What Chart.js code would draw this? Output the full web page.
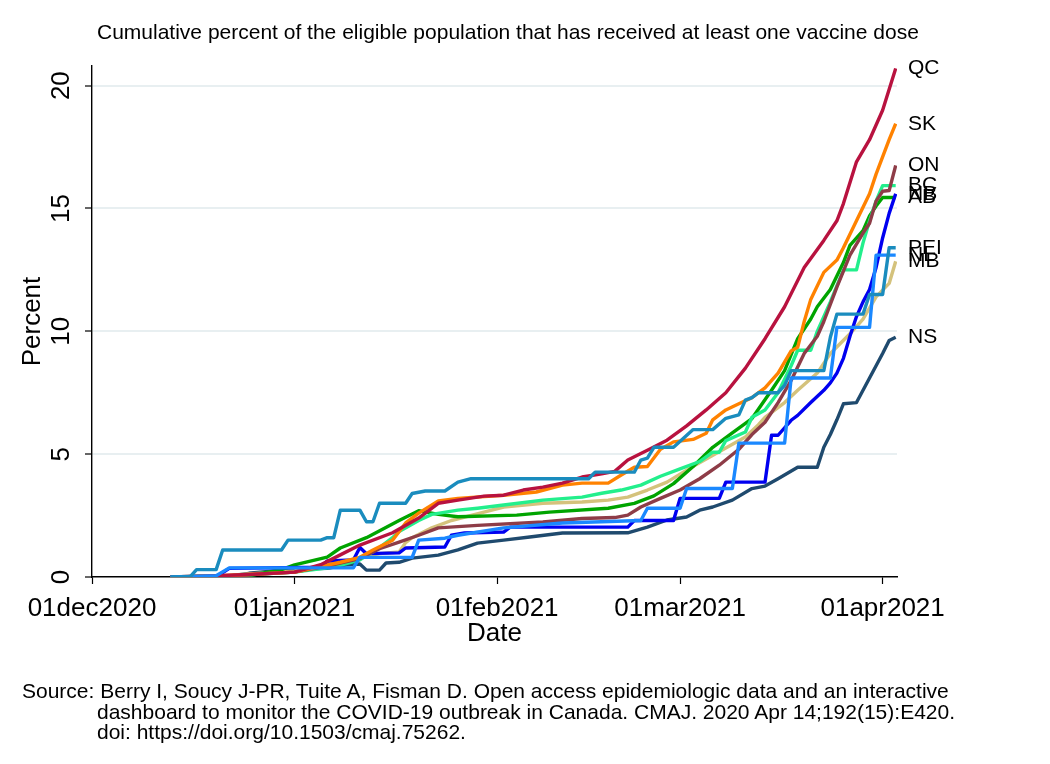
<!DOCTYPE html>
<html>
<head>
<meta charset="utf-8">
<title>Cumulative vaccine coverage by province</title>
<script src="https://cdn.jsdelivr.net/npm/chart.js@4.4.1/dist/chart.umd.min.js"></script>
<style>
  html, body { margin: 0; padding: 0; background: #fff; }
  #wrap { position: relative; width: 1050px; height: 764px; font-family: 'Liberation Sans', Arial, sans-serif; color: #000; }
  #chart { position: absolute; left: 0; top: 0; }
  #title { position: absolute; left: 97px; top: 19px; font-size: 21px; line-height: 26px; white-space: nowrap; }
  #source { position: absolute; left: 22px; top: 681px; font-size: 21px; line-height: 20.5px; padding-left: 75px; text-indent: -75px; white-space: nowrap; }
</style>
</head>
<body>
<div id="wrap">
  <canvas id="chart" width="1050" height="764"></canvas>
  <div id="title">Cumulative percent of the eligible population that has received at least one vaccine dose</div>
  <div id="source">Source: Berry I, Soucy J-PR, Tuite A, Fisman D. Open access epidemiologic data and an interactive<br>dashboard to monitor the COVID-19 outbreak in Canada. CMAJ. 2020 Apr 14;192(15):E420.<br>doi: https://doi.org/10.1503/cmaj.75262.</div>
</div>
<script>
// x values are days counted from 01dec2020
const tickDays = [0, 31, 62, 90, 121];
const tickLabels = ['01dec2020', '01jan2021', '01feb2021', '01mar2021', '01apr2021'];
const yTicks = [0, 5, 10, 15, 20];

const provinces = ['QC', 'SK', 'ON', 'BC', 'NB', 'AB', 'PEI', 'NL', 'MB', 'NS'];

// [day, percent]
const qc = [[12,0],[17,0.03],[24,0.1],[31,0.2],[35,0.5],[38,0.9],[41,1.3],[46,1.8],[50,2.4],[53,3.0],[56,3.13],[60,3.29],[63,3.33],[66,3.54],[69,3.66],[72,3.82],[75,4.07],[78,4.2],[80,4.3],[82,4.76],[85,5.16],[88,5.57],[91,6.15],[94,6.8],[97,7.5],[100,8.5],[103,9.7],[106,11.0],[109,12.6],[112,13.7],[114,14.5],[115,15.2],[117,16.9],[119,17.8],[121,19.0],[123,20.7]];
const sk = [[12,0],[20,0.05],[31,0.2],[38,0.6],[41,0.8],[43,1.1],[46,1.5],[48,2.2],[50,2.6],[53,3.1],[56,3.2],[63,3.33],[68,3.46],[72,3.74],[75,3.82],[79,3.82],[81,4.15],[83,4.47],[85,4.5],[87,5.2],[89,5.5],[92,5.6],[94,5.85],[95,6.4],[97,6.8],[99,7.05],[101,7.3],[103,7.7],[105,8.3],[107,9.2],[108,9.35],[109,10.4],[110,11.3],[112,12.4],[114,12.9],[115,13.4],[117,14.5],[119,15.6],[120,16.4],[122,17.8],[123,18.45]];
const on = [[12,0],[20,0.03],[31,0.2],[37,0.5],[41,0.75],[44,1.15],[47,1.42],[50,1.7],[53,2.0],[59,2.1],[69,2.24],[75,2.38],[80,2.42],[82,2.52],[84,2.85],[87,3.2],[90,3.54],[93,4.0],[96,4.55],[99,5.2],[101,5.8],[103,6.3],[105,7.1],[107,8.0],[109,9.1],[111,9.8],[112,10.4],[114,11.8],[116,13.1],[118,14.0],[119,14.4],[120,15.3],[121,15.7],[122,15.73],[123,16.75]];
const bc = [[12,0],[20,0.03],[31,0.2],[37,0.4],[41,0.7],[44,1.2],[46,1.6],[47,1.85],[50,2.3],[52,2.55],[56,2.72],[59,2.8],[63,2.93],[69,3.13],[75,3.25],[78,3.41],[81,3.54],[84,3.74],[87,4.1],[90,4.4],[93,4.7],[95,5.08],[96,5.08],[97,5.55],[100,5.9],[101,6.5],[103,6.8],[105,7.5],[107,8.6],[108,9.23],[110,9.23],[111,10.0],[113,11.2],[115,12.5],[117,12.5],[118,13.6],[119,14.5],[120,15.3],[121,15.93],[123,15.93]];
const nb = [[12,0],[19,0],[21,0.35],[35,0.4],[36,0.65],[40,0.69],[41,1.2],[42,0.95],[47,0.98],[48,1.18],[54,1.22],[55,1.7],[57,1.79],[63,1.83],[64,2.03],[82,2.03],[83,2.3],[89,2.3],[90,3.2],[96,3.2],[97,3.86],[103,3.86],[104,5.77],[105,5.77],[107,6.38],[108,6.58],[110,7.1],[112,7.6],[113,7.9],[114,8.3],[115,8.9],[116,9.8],[117,10.6],[118,11.2],[119,11.7],[120,12.6],[121,13.8],[122,14.8],[123,15.6]];
const ab = [[12,0],[24,0.05],[29,0.3],[31,0.49],[36,0.81],[38,1.18],[42,1.6],[47,2.3],[50,2.7],[53,2.55],[56,2.45],[65,2.52],[70,2.64],[79,2.8],[83,3.0],[86,3.3],[89,3.8],[92,4.5],[95,5.28],[98,5.87],[101,6.45],[104,7.6],[106,8.4],[108,9.7],[110,10.5],[111,11.0],[113,11.7],[115,12.8],[116,13.5],[118,14.1],[119,14.7],[120,15.1],[121,15.45],[123,15.45]];
const pei = [[12,0],[15,0],[16,0.3],[19,0.3],[20,1.1],[29,1.1],[30,1.5],[35,1.5],[36,1.6],[37,1.6],[38,2.72],[41,2.72],[42,2.25],[43,2.25],[44,3.0],[48,3.0],[49,3.4],[51,3.5],[54,3.5],[56,3.86],[58,4.0],[76,4.0],[77,4.27],[83,4.27],[84,4.76],[85,4.84],[86,5.28],[89,5.28],[92,6.0],[95,6.0],[97,6.46],[99,6.6],[100,7.2],[101,7.3],[102,7.5],[105,7.5],[106,7.8],[107,8.4],[112,8.4],[113,9.76],[114,10.7],[118,10.7],[119,11.5],[121,11.5],[122,13.4],[123,13.4]];
const nl = [[12,0],[19,0.05],[21,0.37],[40,0.37],[41,0.8],[49,0.8],[50,1.5],[54,1.58],[56,1.7],[63,2.0],[72,2.2],[84,2.3],[85,2.8],[90,2.8],[91,3.6],[98,3.6],[99,5.45],[106,5.45],[107,8.1],[113,8.1],[114,10.16],[119,10.16],[120,13.1],[123,13.1]];
const mb = [[12,0],[20,0.05],[31,0.25],[38,0.6],[44,0.95],[47,1.02],[48,1.4],[49,1.6],[52,2.0],[55,2.3],[60,2.64],[63,2.85],[69,3.0],[75,3.05],[79,3.13],[82,3.25],[85,3.54],[88,3.86],[91,4.35],[94,4.8],[97,5.25],[100,5.7],[102,6.2],[103,6.5],[106,7.1],[108,7.6],[111,8.3],[113,9.1],[116,9.9],[118,10.5],[120,11.4],[122,11.95],[123,12.85]];
const ns = [[12,0],[20,0],[24,0.15],[30,0.3],[36,0.35],[39,0.5],[41,0.53],[42,0.28],[44,0.28],[45,0.57],[47,0.6],[49,0.77],[53,0.89],[56,1.1],[59,1.38],[63,1.5],[67,1.63],[72,1.79],[82,1.8],[85,2.03],[88,2.32],[91,2.44],[93,2.72],[95,2.85],[98,3.13],[101,3.6],[103,3.7],[105,4.0],[108,4.47],[111,4.47],[112,5.28],[113,5.8],[114,6.4],[115,7.05],[117,7.1],[119,8.1],[121,9.1],[122,9.63],[123,9.76]];

const series = [qc, sk, on, bc, nb, ab, pei, nl, mb, ns];
const colors = ['#b8123f', '#ff8200', '#8e3c47', '#22ef8c', '#0000f0', '#00a400', '#1a8cbe', '#1a88ff', '#d4c27c', '#1f4a6e'];
// PEI and NL sit on top of the others
const drawOrder = [2, 3, 4, 5, 6, 7, 0, 1, 8, 9];

const FONT = "'Liberation Sans', Arial, sans-serif";

const sideText = {
  id: 'sideText',
  afterDraw(chart) {
    const { ctx, chartArea, scales } = chart;
    ctx.save();
    ctx.fillStyle = '#000';
    // vertical y tick labels
    ctx.font = '26px ' + FONT;
    ctx.textAlign = 'center';
    ctx.textBaseline = 'middle';
    yTicks.forEach(v => {
      const py = scales.y.getPixelForValue(v);
      ctx.save();
      ctx.translate(scales.y.right - 30, py);
      ctx.rotate(-Math.PI / 2);
      ctx.fillText(String(v), 0, 0);
      ctx.restore();
    });
    // province name at the end of each line
    ctx.font = '21px ' + FONT;
    ctx.textAlign = 'left';
    chart.data.datasets.forEach((ds, i) => {
      const pts = chart.getDatasetMeta(i).data;
      const last = pts[pts.length - 1];
      ctx.fillText(ds.label, chartArea.right + 11, last.y);
    });
    ctx.restore();
  }
};

Chart.defaults.font.family = FONT;
Chart.defaults.color = '#000';

new Chart(document.getElementById('chart'), {
  type: 'line',
  data: {
    datasets: provinces.map((p, i) => ({
      label: p,
      data: series[i].map(([x, y]) => ({ x, y })),
      borderColor: colors[i],
      borderWidth: 3.4,
      pointRadius: 0,
      fill: false,
      tension: 0,
      borderJoinStyle: 'round',
      order: drawOrder[i]
    }))
  },
  options: {
    responsive: false,
    animation: false,
    layout: { padding: { left: 0, top: 66, right: 153, bottom: 114.4 } },
    plugins: {
      legend: { display: false },
      tooltip: { enabled: false }
    },
    scales: {
      x: {
        type: 'linear',
        min: 0,
        max: 123.2,
        afterBuildTicks: s => { s.ticks = tickDays.map(v => ({ value: v })); },
        afterFit: s => { s.height = 72.6; },
        ticks: {
          autoSkip: false,
          maxRotation: 0,
          minRotation: 0,
          padding: 9,
          font: { size: 26 },
          callback: v => tickLabels[tickDays.indexOf(v)]
        },
        grid: { drawOnChartArea: false, tickLength: 7, tickColor: '#000', tickWidth: 1.2 },
        border: { display: true, color: '#000', width: 1.4 },
        title: { display: true, text: 'Date', font: { size: 26 }, padding: 0 }
      },
      y: {
        min: 0,
        max: 20.8,
        afterBuildTicks: s => { s.ticks = yTicks.map(v => ({ value: v })); },
        afterFit: s => { s.width = 92; },
        ticks: { display: false },
        grid: {
          color: c => (c.tick && c.tick.value === 0 ? 'rgba(0,0,0,0)' : '#e8eff1'),
          lineWidth: 2,
          tickLength: 7,
          tickColor: '#000',
          tickWidth: 1.2
        },
        border: { display: true, color: '#000', width: 1.4 },
        title: { display: true, text: 'Percent', font: { size: 26 }, padding: { top: 17.4, bottom: 0 } }
      }
    }
  },
  plugins: [sideText]
});
</script>
</body>
</html>
